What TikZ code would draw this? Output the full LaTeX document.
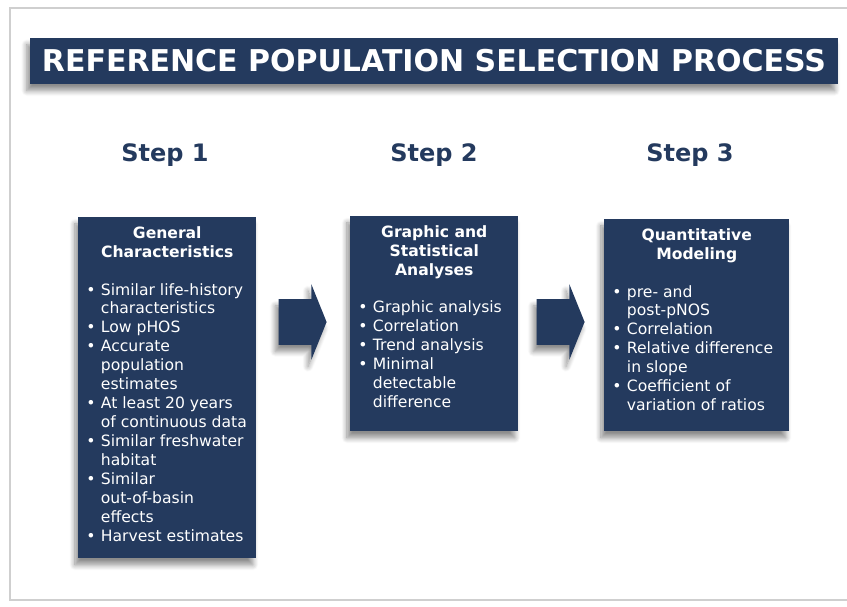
\documentclass[tikz,border=0pt]{standalone}
\usepackage{fontspec}
\setmainfont{DejaVu Sans}
\usetikzlibrary{shapes.arrows,shadows.blur}
\definecolor{popNavy}{HTML}{243A5E}
\definecolor{frameGray}{HTML}{CFCFCF}
\newlength{\bulind}
\setlength{\bulind}{11pt}
% one bullet line, later lines hang under the text
\newcommand{\bitem}[1]{\par\hangindent=\bulind\hangafter=1\noindent
  \makebox[\bulind][l]{\textbullet}#1}
\tikzset{
  soft shadow/.style={blur shadow={shadow xshift=-2.5pt,shadow yshift=-5pt,
    shadow blur radius=4pt,shadow blur steps=8,shadow opacity=45}},
  title bar/.style={fill=popNavy,text=white,inner sep=0pt,
    font=\fontsize{22.5}{25}\selectfont\bfseries,
    minimum width=606pt,minimum height=34.5pt,soft shadow},
  step label/.style={text=popNavy,font=\fontsize{18}{21}\selectfont\bfseries},
  stepbox/.style={fill=popNavy,text=white,anchor=north west,
    inner xsep=6pt,inner ysep=0pt,
    font=\fontsize{11.7}{14.2}\selectfont,soft shadow},
  flow arrow/.style={single arrow,fill=popNavy,draw=none,
    inner xsep=0pt,inner ysep=16.875pt,text height=0pt,text depth=0pt,
    minimum height=36pt,
    single arrow head extend=11.25pt,single arrow tip angle=136,soft shadow}
}

\begin{document}
\begin{tikzpicture}[x=0.75pt,y=-0.75pt]
  \useasboundingbox (0,0) rectangle (847,607);
  \draw[frameGray,line width=0.8pt] (10,8) rectangle (860,600);

  \node[title bar] (title) at (434,61) {REFERENCE POPULATION SELECTION PROCESS};

  \node[step label] (lab1) at (165,155) {Step 1};
  \node[step label] (lab2) at (434,155) {Step 2};
  \node[step label] (lab3) at (690,155) {Step 3};

  \node[stepbox] (general) at (78,217)
    {\parbox[t][255.75pt][t]{121.5pt}{\vspace*{5.8pt}%
      {\centering\bfseries\strut General\\Characteristics\par}
      \vspace{\baselineskip}\raggedright
      \bitem{Similar life-history\newline characteristics}
      \bitem{Low pHOS}
      \bitem{Accurate\newline population\newline estimates}
      \bitem{At least 20 years\newline of continuous data}
      \bitem{Similar freshwater\newline habitat}
      \bitem{Similar\newline out-of-basin\newline effects}
      \bitem{Harvest estimates}}};

  \node[stepbox] (stats) at (350,216)
    {\parbox[t][161.25pt][t]{114pt}{\vspace*{5.8pt}%
      {\centering\bfseries\strut Graphic and\\Statistical\\Analyses\par}
      \vspace{\baselineskip}\raggedright
      \bitem{Graphic analysis}
      \bitem{Correlation}
      \bitem{Trend analysis}
      \bitem{Minimal\newline detectable\newline difference}}};

  \node[stepbox] (model) at (604,219)
    {\parbox[t][159pt][t]{126.75pt}{\vspace*{5.8pt}%
      {\centering\bfseries\strut Quantitative\\Modeling\par}
      \vspace{\baselineskip}\raggedright
      \bitem{pre- and\newline post-pNOS}
      \bitem{Correlation}
      \bitem{Relative difference\newline in slope}
      \bitem{Coefficient of\newline variation of ratios}}};

  \node[flow arrow] (go1) at (298,322) {};
  \node[flow arrow] (go2) at (556,322) {};
\end{tikzpicture}
\end{document}
